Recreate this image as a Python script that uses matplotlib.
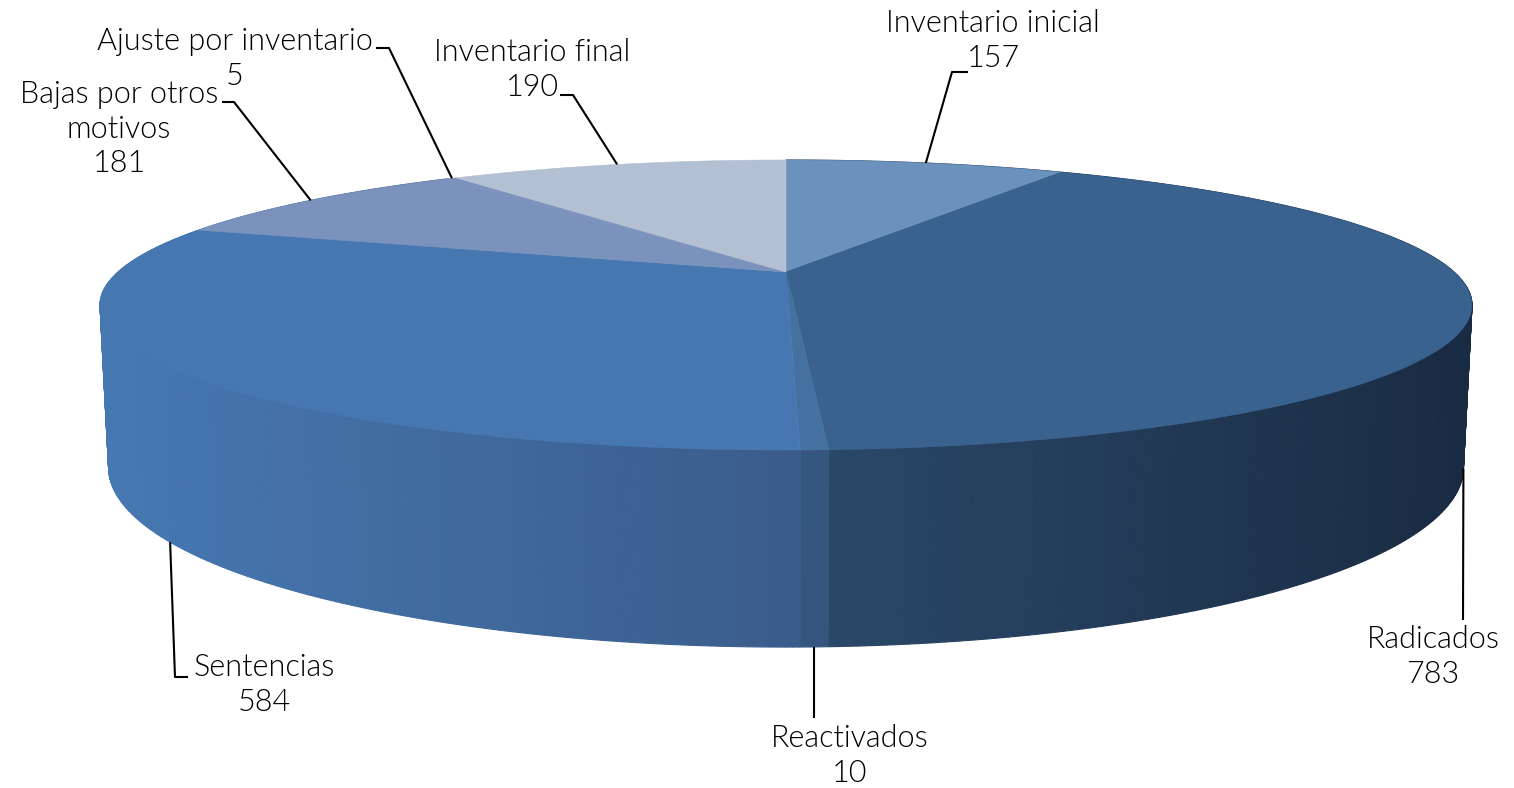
import numpy as np
import matplotlib
matplotlib.use('Agg')
import matplotlib.pyplot as plt
from matplotlib.colors import to_rgb

plt.rcParams['font.family'] = ['Lato', 'DejaVu Sans']

categories = ['Inventario inicial', 'Radicados', 'Reactivados', 'Sentencias',
              'Bajas por otros\nmotivos', 'Ajuste por inventario', 'Inventario final']
values = [157, 783, 10, 584, 181, 5, 190]
top_colors = ['#6A92BD', '#3A628F', '#44719F', '#4677B0', '#7B92BC', '#7B92BC', '#B3BFD3']
side_left = ['#2A4869', '#2A4869', '#35577F', '#4678B2', '#4678B2', '#4678B2', '#4678B2']
side_right = ['#192B42', '#192B42', '#35577F', '#3A5C8A', '#3A5C8A', '#3A5C8A', '#3A5C8A']

# perspective of the disc, in pixels
CX, CY = 786, 272
A, B = 668, 137.5
K = 0.2276
BOTTOM_W, DEPTH = 0.012, 156.7


def project(theta, bottom=False):
    # theta runs clockwise from 12 o'clock, in degrees
    t = np.radians(theta)
    x, y = np.sin(t), np.cos(t)
    if bottom:
        w = 1 + BOTTOM_W + K * y
        return CX + A * x / w, CY - (B * y - DEPTH) / w
    w = 1 + K * y
    return CX + A * x / w, CY - B * y / w


def mix(c1, c2, f):
    return tuple((1 - f) * a + f * b for a, b in zip(to_rgb(c1), to_rgb(c2)))


fig = plt.figure(figsize=(15.14, 7.88), dpi=100)
ax = fig.add_axes([0, 0, 1, 1])
ax.set_xlim(0, 1514)
ax.set_ylim(788, 0)
ax.axis('off')

edges = np.concatenate([[0], np.cumsum(values)]) / sum(values) * 360

# sides first, the top covers the hidden part
for i in range(len(values)):
    a0, a1 = edges[i], edges[i + 1]
    if a0 > 290:
        continue
    n = max(2, int((a1 - a0) / 0.5))
    steps = np.linspace(a0, a1, n + 1)
    xs = [project(s)[0] for s in steps]
    lo, hi = min(xs), max(xs)
    for s0, s1 in zip(steps[:-1], steps[1:]):
        x0, y0 = project(s0)
        x1, y1 = project(s1)
        x2, y2 = project(s1, True)
        x3, y3 = project(s0, True)
        f = ((x0 + x1) / 2 - lo) / max(hi - lo, 1)
        c = mix(side_left[i], side_right[i], f)
        ax.fill([x0, x1, x2, x3], [y0, y1, y2, y3], color=c, lw=0.8, zorder=2)

for i in range(len(values)):
    steps = np.linspace(edges[i], edges[i + 1], 60)
    px, py = project(steps)
    ax.fill(np.r_[CX, px], np.r_[CY, py], color=top_colors[i], lw=0.4, zorder=3)

# leader lines start on the rim at each slice's middle angle
mids = (edges[:-1] + edges[1:]) / 2
on_bottom = [False, True, True, True, False, False, False]
elbows = [[(952, 72), (968, 72)], [(1463, 620)], [(814, 718)], [(175, 677), (188, 677)],
          [(234, 102), (222, 102)], [(389, 48), (376, 48)], [(573, 95), (560, 95)]]
for m, bot, el in zip(mids, on_bottom, elbows):
    x0, y0 = project(m, bot)
    xs = [x0] + [p[0] for p in el]
    ys = [y0] + [p[1] for p in el]
    ax.plot(xs, ys, color='black', lw=1.5, zorder=4, solid_capstyle='butt')

label_pos = [(993, 41), (1433, 657), (850, 756), (264, 685), (119, 129), (235, 59), (532, 70)]
for cat, val, (x, y) in zip(categories, values, label_pos):
    ax.text(x, y, f'{cat}\n{val}', ha='center', va='center', fontsize=22, fontweight=300,
            color='black', linespacing=1.23, zorder=5)

fig.savefig('out.png', dpi=100)
